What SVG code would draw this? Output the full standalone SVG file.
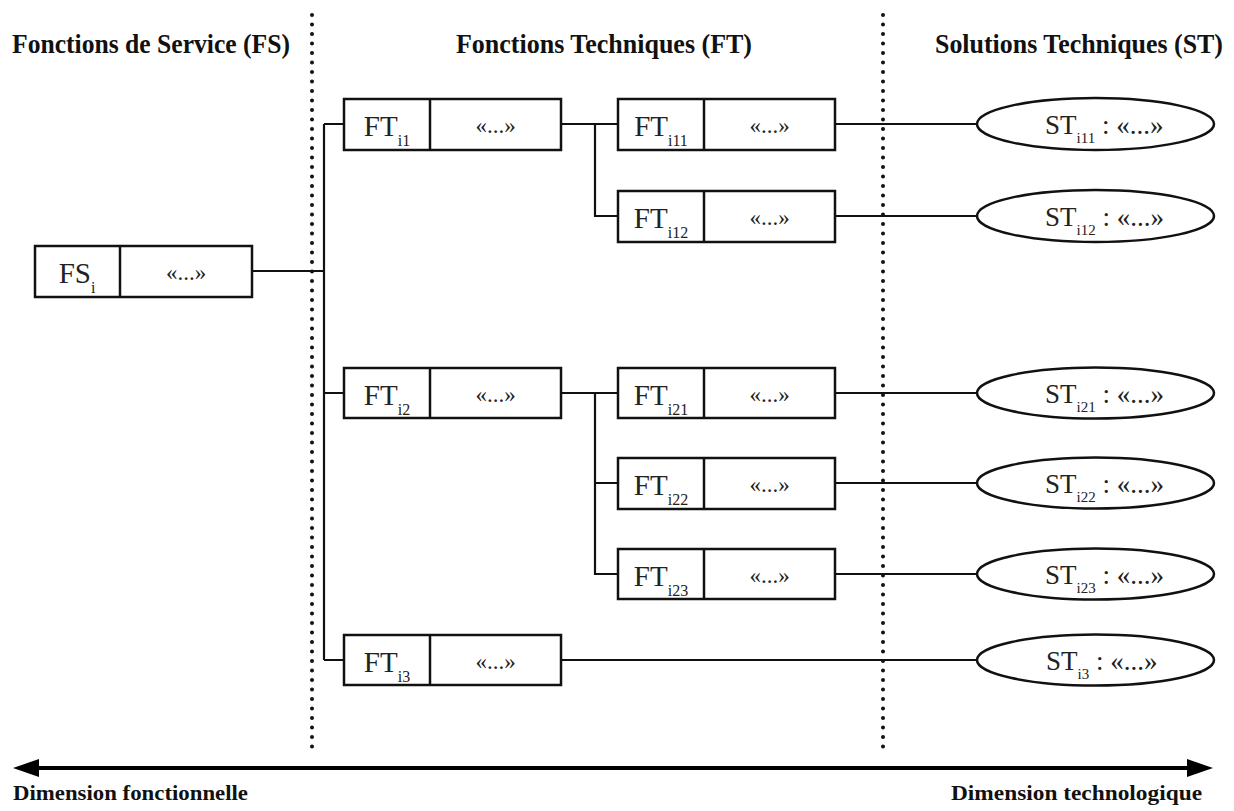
<svg xmlns="http://www.w3.org/2000/svg" width="1234" height="811" viewBox="0 0 1234 811">
<style>
.bx{fill:#fff;stroke:#111;stroke-width:2.5}
.ln{fill:none;stroke:#111;stroke-width:2.2}
.dot{fill:none;stroke:#111;stroke-width:4;stroke-linecap:round;stroke-dasharray:0 9.5}
.t{font-family:"Liberation Serif","Times New Roman",serif;font-size:29px;fill:#222}
.q{font-family:"Liberation Serif","Times New Roman",serif;font-size:23px;fill:#222}
.s{font-size:16px}
.h{font-family:"Liberation Serif","Times New Roman",serif;font-weight:bold;font-size:27px;fill:#111}
.b{font-family:"Liberation Serif","Times New Roman",serif;font-weight:bold;font-size:22px;fill:#111}
.e{font-family:"Liberation Serif","Times New Roman",serif;font-size:27px;fill:#222}
.es{font-size:15px}
</style>
<g id="headers">
<text class="h" x="12" y="53" textLength="278" lengthAdjust="spacingAndGlyphs">Fonctions de Service (FS)</text>
<text class="h" x="456" y="53" textLength="296" lengthAdjust="spacingAndGlyphs">Fonctions Techniques (FT)</text>
<text class="h" x="935" y="53" textLength="288" lengthAdjust="spacingAndGlyphs">Solutions Techniques (ST)</text>
</g>
<g id="separators">
<line class="dot" x1="312" y1="15" x2="312" y2="750"/>
<line class="dot" x1="883" y1="15" x2="883" y2="750"/>
</g>
<g id="connectors">
<path class="ln" d="M252 271H324M324 124V660M324 124H344M324 393H344M324 660H344"/>
<path class="ln" d="M561 124H618M595 124V216H618"/>
<path class="ln" d="M561 393H618M595 393V574H618M595 483H618"/>
<path class="ln" d="M835 124H977M835 216H977M835 393H977M835 483H977M835 574H977M561 660H977"/>
</g>
<g id="FSi">
<rect class="bx" x="35" y="246" width="217" height="51"/>
<line class="bx" x1="120" y1="246" x2="120" y2="297"/>
<text class="t" x="77" y="283" text-anchor="middle">FS<tspan class="s" dy="10">i</tspan></text>
<text class="q" x="186" y="280" text-anchor="middle">«...»</text>
</g>
<g id="FTi1">
<rect class="bx" x="344" y="99" width="217" height="51"/>
<line class="bx" x1="430" y1="99" x2="430" y2="150"/>
<text class="t" x="387" y="136" text-anchor="middle">FT<tspan class="s" dy="10">i1</tspan></text>
<text class="q" x="495.5" y="133" text-anchor="middle">«...»</text>
</g>
<g id="FTi2">
<rect class="bx" x="344" y="368" width="217" height="50"/>
<line class="bx" x1="430" y1="368" x2="430" y2="418"/>
<text class="t" x="387" y="405" text-anchor="middle">FT<tspan class="s" dy="10">i2</tspan></text>
<text class="q" x="495.5" y="402" text-anchor="middle">«...»</text>
</g>
<g id="FTi3">
<rect class="bx" x="344" y="635" width="217" height="50"/>
<line class="bx" x1="430" y1="635" x2="430" y2="685"/>
<text class="t" x="387" y="672" text-anchor="middle">FT<tspan class="s" dy="10">i3</tspan></text>
<text class="q" x="495.5" y="669" text-anchor="middle">«...»</text>
</g>
<g id="FTi11">
<rect class="bx" x="618" y="99" width="217" height="51"/>
<line class="bx" x1="704" y1="99" x2="704" y2="150"/>
<text class="t" x="661" y="136" text-anchor="middle">FT<tspan class="s" dy="10">i11</tspan></text>
<text class="q" x="769.5" y="133" text-anchor="middle">«...»</text>
</g>
<g id="FTi12">
<rect class="bx" x="618" y="191" width="217" height="51"/>
<line class="bx" x1="704" y1="191" x2="704" y2="242"/>
<text class="t" x="661" y="228" text-anchor="middle">FT<tspan class="s" dy="10">i12</tspan></text>
<text class="q" x="769.5" y="225" text-anchor="middle">«...»</text>
</g>
<g id="FTi21">
<rect class="bx" x="618" y="368" width="217" height="50"/>
<line class="bx" x1="704" y1="368" x2="704" y2="418"/>
<text class="t" x="661" y="405" text-anchor="middle">FT<tspan class="s" dy="10">i21</tspan></text>
<text class="q" x="769.5" y="402" text-anchor="middle">«...»</text>
</g>
<g id="FTi22">
<rect class="bx" x="618" y="458" width="217" height="51"/>
<line class="bx" x1="704" y1="458" x2="704" y2="509"/>
<text class="t" x="661" y="495" text-anchor="middle">FT<tspan class="s" dy="10">i22</tspan></text>
<text class="q" x="769.5" y="492" text-anchor="middle">«...»</text>
</g>
<g id="FTi23">
<rect class="bx" x="618" y="549" width="217" height="50"/>
<line class="bx" x1="704" y1="549" x2="704" y2="599"/>
<text class="t" x="661" y="586" text-anchor="middle">FT<tspan class="s" dy="10">i23</tspan></text>
<text class="q" x="769.5" y="583" text-anchor="middle">«...»</text>
</g>
<g id="STi11">
<ellipse class="bx" cx="1095.5" cy="124" rx="118.5" ry="26"/>
<text class="e" x="1045" y="134">ST<tspan class="es" dy="9">i11</tspan><tspan dy="-9"> : «...»</tspan></text>
</g>
<g id="STi12">
<ellipse class="bx" cx="1095.5" cy="216" rx="118.5" ry="26"/>
<text class="e" x="1045" y="226">ST<tspan class="es" dy="9">i12</tspan><tspan dy="-9"> : «...»</tspan></text>
</g>
<g id="STi21">
<ellipse class="bx" cx="1095.5" cy="393" rx="118.5" ry="25.5"/>
<text class="e" x="1045" y="403">ST<tspan class="es" dy="9">i21</tspan><tspan dy="-9"> : «...»</tspan></text>
</g>
<g id="STi22">
<ellipse class="bx" cx="1095.5" cy="483" rx="118.5" ry="25.5"/>
<text class="e" x="1045" y="493">ST<tspan class="es" dy="9">i22</tspan><tspan dy="-9"> : «...»</tspan></text>
</g>
<g id="STi23">
<ellipse class="bx" cx="1095.5" cy="574" rx="118.5" ry="25.5"/>
<text class="e" x="1045" y="584">ST<tspan class="es" dy="9">i23</tspan><tspan dy="-9"> : «...»</tspan></text>
</g>
<g id="STi3">
<ellipse class="bx" cx="1095.5" cy="660" rx="118.5" ry="25.5"/>
<text class="e" x="1046" y="670">ST<tspan class="es" dy="9">i3</tspan><tspan dy="-9"> : «...»</tspan></text>
</g>
<g id="axis">
<line x1="36" y1="768" x2="1190" y2="768" stroke="#000" stroke-width="4"/>
<polygon points="13,768 39,759 39,777" fill="#000"/>
<polygon points="1213,768 1187,759 1187,777" fill="#000"/>
<text class="b" x="13" y="800" textLength="235" lengthAdjust="spacingAndGlyphs">Dimension fonctionnelle</text>
<text class="b" x="951" y="800" textLength="251" lengthAdjust="spacingAndGlyphs">Dimension technologique</text>
</g>
</svg>
